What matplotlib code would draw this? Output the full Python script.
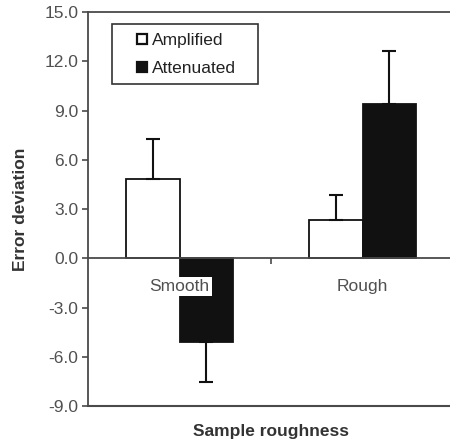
import matplotlib

matplotlib.use("Agg")

import numpy as np
from matplotlib import pyplot as plt
from matplotlib.lines import Line2D
from matplotlib.patches import Rectangle
from matplotlib.ticker import FixedLocator, FormatStrFormatter

categories = ["Smooth", "Rough"]
amplified = [4.8, 2.3]
amplified_err = [2.45, 1.55]
attenuated = [-5.1, 9.4]
attenuated_err = [2.45, 3.2]
y_ticks = [-9.0, -6.0, -3.0, 0.0, 3.0, 6.0, 9.0, 12.0, 15.0]

AXIS_GREY = "#4a4a4a"
TEXT_GREY = "#505050"

plt.rcParams["font.family"] = ["Liberation Sans", "DejaVu Sans"]


def one_sided(values, errors):
    # error bars only point away from zero
    lower = [e if v < 0 else 0 for v, e in zip(values, errors)]
    upper = [e if v >= 0 else 0 for v, e in zip(values, errors)]
    return [lower, upper]


fig = plt.figure(figsize=(4.5, 4.44), dpi=100)
ax = fig.add_axes([88 / 450, 38 / 444, 366 / 450, 394 / 444])

x = np.arange(len(categories))
width = 0.295
err_style = dict(ecolor="#111111", elinewidth=1.5, capsize=5, capthick=1.5)

ax.bar(x - width / 2, amplified, width, color="white", edgecolor="#111111",
       linewidth=1.3, yerr=one_sided(amplified, amplified_err),
       error_kw=err_style, label="Amplified")
ax.bar(x + width / 2, attenuated, width, color="#111111", edgecolor="#111111",
       linewidth=1.3, yerr=one_sided(attenuated, attenuated_err),
       error_kw=err_style, label="Attenuated")

ax.set_xlim(-0.5, 1.5)
ax.set_ylim(-9, 15)

for side in ("right", "left", "top", "bottom"):
    ax.spines[side].set_color(AXIS_GREY)
    ax.spines[side].set_linewidth(1.3)
ax.spines["right"].set_visible(False)
ax.spines["bottom"].set_position(("data", 0))
ax.axhline(-9, color=AXIS_GREY, linewidth=1.5, clip_on=False, zorder=3)

ax.yaxis.set_major_locator(FixedLocator(y_ticks))
ax.yaxis.set_major_formatter(FormatStrFormatter("%.1f"))
ax.tick_params(axis="y", direction="out", length=4, width=1.2,
               colors=AXIS_GREY, labelcolor=TEXT_GREY, labelsize=12.5, pad=3)

ax.set_xticks(x)
ax.set_xticklabels(categories)
ax.xaxis.set_minor_locator(FixedLocator([0.5]))
ax.tick_params(axis="x", which="major", length=0, labelcolor=TEXT_GREY,
               labelsize=12.5, pad=15)
ax.tick_params(axis="x", which="minor", direction="out", length=4, width=1.2,
               colors=AXIS_GREY)
for label in ax.get_xticklabels():
    label.set_bbox(dict(facecolor="white", edgecolor="none", pad=1.5))

ax.set_ylabel("Error deviation", fontsize=12.5, fontweight="bold", color="#333333")
ax.yaxis.set_label_coords(-0.165, 0.5)
fig.text((88 + 366 / 2) / 450, 1 - 431 / 444, "Sample roughness", fontsize=12.5,
         fontweight="bold", color="#333333", ha="center", va="center")

# legend box is wider than the entries, so the frame is drawn on its own
ax.add_patch(Rectangle((0.0656, 0.8173), 0.399, 0.1522, transform=ax.transAxes,
                       facecolor="white", edgecolor="#333333", linewidth=1.2,
                       zorder=4))
handles = [
    Line2D([], [], linestyle="none", marker="s", markersize=7.5,
           markerfacecolor="white", markeredgecolor="#111111",
           markeredgewidth=1.6, label="Amplified"),
    Line2D([], [], linestyle="none", marker="s", markersize=7.5,
           markerfacecolor="#111111", markeredgecolor="#111111",
           markeredgewidth=1.6, label="Attenuated"),
]
legend = ax.legend(handles=handles, loc="upper left", bbox_to_anchor=(0.131, 0.9467),
                   borderaxespad=0, borderpad=0, frameon=False,
                   handlelength=0.75, handleheight=0.6, handletextpad=0.15,
                   labelspacing=0.75, fontsize=12.5)
legend.set_zorder(5)
for text in legend.get_texts():
    text.set_color("#222222")

fig.savefig("out.png", dpi=100, facecolor="white")
